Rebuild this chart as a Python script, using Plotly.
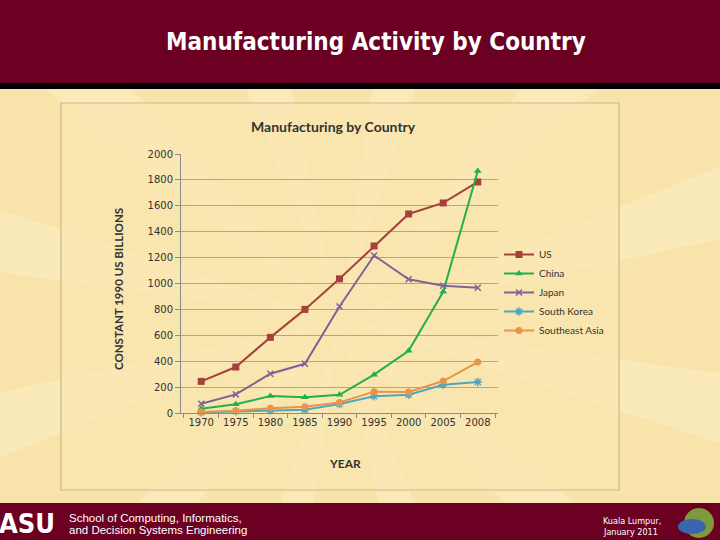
import plotly.graph_objects as go
import math

# ---------------- data ----------------
years = ["1970", "1975", "1980", "1985", "1990", "1995", "2000", "2005", "2008"]
us = [244, 355, 584, 800, 1036, 1290, 1537, 1622, 1784]
china = [33, 67, 131, 121, 141, 296, 481, 936, 1869]
japan = [72, 144, 303, 380, 823, 1216, 1033, 982, 967]
south_korea = [5, 13, 18, 26, 69, 129, 141, 218, 239]
southeast_asia = [8, 18, 36, 49, 82, 165, 162, 247, 393]

W, H = 720, 540
def px(x):
    return x / W
def py(y):
    return 1 - y / H

fig = go.Figure()

series = [
    ("US", us, "#A5403D", "square", 7, None),
    ("China", china, "#22B04B", "triangle-up", 7, None),
    ("Japan", japan, "#7F6297", "x-thin", 6, 1.5),
    ("South Korea", south_korea, "#4BA8C0", "asterisk", 7, 1.5),
    ("Southeast Asia", southeast_asia, "#E8944A", "circle", 7, None),
]
for name, vals, col, sym, size, lw in series:
    marker = dict(symbol=sym, size=size, color=col)
    if lw:
        marker["line"] = dict(color=col, width=lw)
    fig.add_trace(go.Scatter(
        x=years, y=vals, name=name, mode="lines+markers",
        line=dict(color=col, width=2), marker=marker, cliponaxis=False,
    ))

shapes = []
# faint sunburst rays
cx, cy = 340, 320
R = 900
for k in range(12):
    a0 = math.radians(k * 30 + 8)
    a1 = a0 + math.radians(10)
    pts = [(cx, cy), (cx + R * math.cos(a0), cy + R * math.sin(a0)),
           (cx + R * math.cos(a1), cy + R * math.sin(a1))]
    path = "M " + " L ".join(f"{px(x):.4f},{py(y):.4f}" for x, y in pts) + " Z"
    shapes.append(dict(type="path", path=path, xref="paper", yref="paper",
                       fillcolor="rgba(255,244,214,0.35)", line=dict(width=0), layer="below"))
# chart panel
shapes.append(dict(type="rect", xref="paper", yref="paper", x0=px(61), x1=px(619), y0=py(490), y1=py(103),
                   fillcolor="rgba(250,230,176,0.6)", line=dict(color="#C9B98E", width=1.2), layer="below"))
# header / footer
shapes.append(dict(type="rect", xref="paper", yref="paper", x0=-0.05, x1=1.05, y0=py(83), y1=1.05,
                   fillcolor="#6B0022", line=dict(width=0), layer="above"))
shapes.append(dict(type="rect", xref="paper", yref="paper", x0=-0.05, x1=1.05, y0=py(89), y1=py(83),
                   fillcolor="#000000", line=dict(width=0), layer="above"))
shapes.append(dict(type="rect", xref="paper", yref="paper", x0=-0.05, x1=1.05, y0=-0.05, y1=py(503),
                   fillcolor="#6B0022", line=dict(width=0), layer="above"))
# small logo at bottom right
shapes.append(dict(type="circle", xref="paper", yref="paper", x0=px(684), x1=px(714), y0=py(538), y1=py(508),
                   fillcolor="#7E9A3C", line=dict(width=0), layer="above"))
shapes.append(dict(type="circle", xref="paper", yref="paper", x0=px(678), x1=px(706), y0=py(534), y1=py(519),
                   fillcolor="#3A66B0", line=dict(width=0), layer="above"))

COND = "DejaVu Sans Condensed, Liberation Sans, Arial"
annotations = [
    dict(text="<b>Manufacturing Activity by Country</b>", x=px(376), y=py(42), xref="paper", yref="paper",
         showarrow=False, font=dict(family=COND, size=24, color="white"),
         xanchor="center", yanchor="middle"),
    dict(text="<b>Manufacturing by Country</b>", x=px(333), y=py(127), xref="paper", yref="paper",
         showarrow=False, font=dict(family="Lato", size=14, color="#333333"), xanchor="center", yanchor="middle"),
    dict(text="<b>CONSTANT 1990 US BILLIONS</b>", x=px(118), y=py(289), xref="paper", yref="paper",
         showarrow=False, textangle=-90, font=dict(family="Lato", size=11.5, color="#333333"),
         xanchor="center", yanchor="middle"),
    dict(text="<b>YEAR</b>", x=px(345), y=py(463), xref="paper", yref="paper",
         showarrow=False, font=dict(family="Lato", size=12, color="#333333"), xanchor="center", yanchor="middle"),
    dict(text="<b>ASU</b>", x=px(27), y=py(523), xref="paper", yref="paper",
         showarrow=False, font=dict(family=COND, size=27, color="white"),
         xanchor="center", yanchor="middle"),
    dict(text="School of Computing, Informatics,", x=px(67), y=py(518), xref="paper", yref="paper",
         showarrow=False, font=dict(family="Liberation Sans", size=11.5, color="white"),
         xanchor="left", yanchor="middle"),
    dict(text="and Decision Systems Engineering", x=px(67), y=py(530), xref="paper", yref="paper",
         showarrow=False, font=dict(family="Liberation Sans", size=11.5, color="white"),
         xanchor="left", yanchor="middle"),
    dict(text="Kuala Lumpur,", x=px(601), y=py(521), xref="paper", yref="paper",
         showarrow=False, font=dict(family=COND, size=9, color="white"),
         xanchor="left", yanchor="middle"),
    dict(text="January 2011", x=px(601), y=py(532), xref="paper", yref="paper",
         showarrow=False, font=dict(family=COND, size=9, color="white"),
         xanchor="left", yanchor="middle"),
]

fig.update_layout(
    width=W, height=H,
    margin=dict(l=0, r=0, t=0, b=0, autoexpand=False),
    paper_bgcolor="#F8E3AA",
    plot_bgcolor="rgba(0,0,0,0)",
    shapes=shapes,
    annotations=annotations,
    showlegend=True,
    legend=dict(x=px(499), y=py(240), xanchor="left", yanchor="top", bgcolor="rgba(0,0,0,0)",
                font=dict(family="Lato", size=10, color="#333333"), itemwidth=30,
                tracegroupgap=0),
    xaxis=dict(domain=[px(181), px(498)], type="category", tickson="boundaries",
               ticks="outside", ticklen=4, tickcolor="#8C8C8C", showline=True, linecolor="#8C8C8C",
               showgrid=False, tickfont=dict(family="DejaVu Sans", size=10, color="#333333")),
    yaxis=dict(domain=[py(413), py(154)], range=[0, 2000], dtick=200, ticks="outside", ticklen=5,
               tickcolor="#8C8C8C", showline=True, linecolor="#8C8C8C", gridcolor="#A6A6A6", gridwidth=1,
               zeroline=False, tickfont=dict(family="DejaVu Sans", size=10, color="#333333")),
)

fig.write_html("out.html", config={"displayModeBar": False},
               post_script="document.body.style.margin='0';")
